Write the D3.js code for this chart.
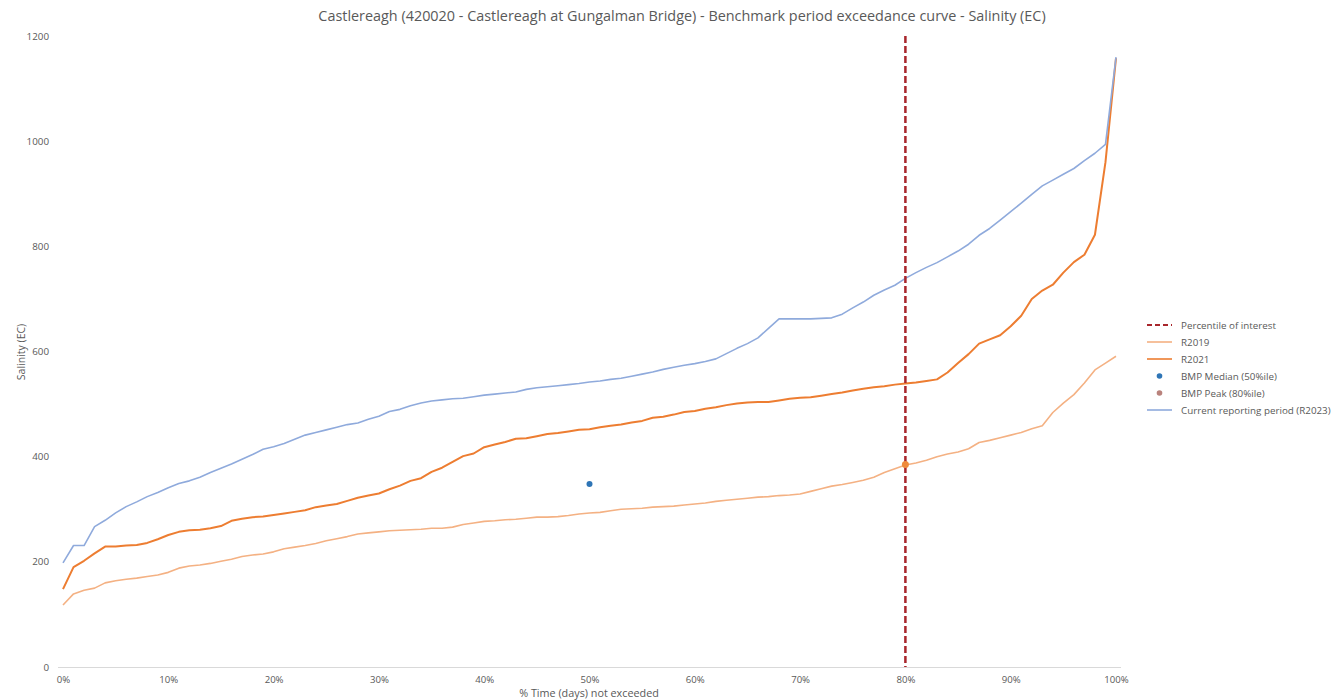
<!DOCTYPE html>
<html>
<head>
<meta charset="utf-8">
<script src="https://cdn.jsdelivr.net/npm/d3@7"></script>
<style>
  html, body { margin: 0; padding: 0; background: #ffffff; }
  svg { display: block; font-family: "Open Sans", Lato, sans-serif; }
</style>
</head>
<body>
<svg id="chart" width="1344" height="700"></svg>
<script>
// Exceedance percentiles (0% .. 100% in 1% steps)
const percentiles = d3.range(0, 101);

// Salinity (EC) by percentile for each period
const r2019 = [
  118, 139, 146, 150, 160, 164, 167, 169, 172, 175,
  180, 188, 192, 194, 197, 201, 205, 210, 213, 215,
  219, 225, 228, 231, 235, 240, 244, 248, 253, 255,
  257, 259, 260, 261, 262, 264, 264, 266, 271, 274,
  277, 278, 280, 281, 283, 285, 285, 286, 288, 291,
  293, 294, 297, 300, 301, 302, 304, 305, 306, 308,
  310, 312, 315, 317, 319, 321, 323, 324, 326, 327,
  329, 334, 339, 344, 347, 351, 355, 361, 370, 377,
  384, 388, 393, 400, 405, 409, 415, 427, 431, 436,
  441, 446, 453, 459, 484, 502, 518, 540, 565, 578,
  591
];
const r2021 = [
  148, 190, 202, 216, 229, 229, 231, 232, 236, 243,
  251, 257, 260, 261, 264, 268, 278, 282, 285, 286,
  289, 292, 295, 298, 304, 307, 310, 316, 322, 326,
  330, 338, 345, 354, 359, 371, 379, 390, 401, 406,
  418, 423, 428, 434, 435, 439, 443, 445, 448, 451,
  452, 456, 459, 461, 465, 468, 474, 476, 480, 485,
  487, 491, 494, 498, 501, 503, 504, 504, 507, 510,
  512, 513, 516, 519, 522, 526, 529, 532, 534, 537,
  539, 541, 544, 547, 560, 578, 595, 615, 623, 631,
  648, 668, 700, 716, 727, 750, 770, 784, 822, 960,
  1158
];
const r2023 = [
  198, 231, 231, 267, 279, 293, 305, 314, 324, 332,
  341, 349, 354, 361, 370, 378, 386, 395, 404, 414,
  419, 425, 433, 441, 446, 451, 456, 461, 464, 471,
  477, 486, 490, 497, 502, 506, 508, 510, 511, 514,
  517, 519, 521, 523, 528, 531, 533, 535, 537, 539,
  542, 544, 547, 549, 553, 557, 561, 566, 570, 574,
  577, 581, 586, 596, 606, 615, 626, 644, 662, 662,
  662, 662, 663, 664, 671, 683, 694, 707, 717, 726,
  739, 750, 760, 769, 780, 791, 804, 821, 834, 850,
  866, 882, 899, 915, 926, 937, 948, 963, 977, 994,
  1160
];

// Benchmark markers and percentile of interest
const bmpMedian = { pct: 50, value: 348 };
const bmpPeak = { pct: 80, value: 385 };
const percentileOfInterest = 80;

const yTicks = [0, 200, 400, 600, 800, 1000, 1200];
const xTicks = [0, 10, 20, 30, 40, 50, 60, 70, 80, 90, 100];

const titleText = "Castlereagh (420020 - Castlereagh at Gungalman Bridge) - Benchmark period exceedance curve - Salinity (EC)";
const xTitle = "% Time (days) not exceeded";
const yTitle = "Salinity (EC)";
const legendItems = [
  { label: "Percentile of interest", kind: "dash", color: "#a8262c" },
  { label: "R2019", kind: "line", color: "#f4b183" },
  { label: "R2021", kind: "line", color: "#ed7d31" },
  { label: "BMP Median (50%ile)", kind: "dot", color: "#2e75b6" },
  { label: "BMP Peak (80%ile)", kind: "dot", color: "#b9827c" },
  { label: "Current reporting period (R2023)", kind: "line", color: "#8faadc" }
];

const svg = d3.select("#chart");
const textColor = "#595959";

const x = d3.scaleLinear().domain([0, 100]).range([63, 1116]);
const y = d3.scaleLinear().domain([0, 1200]).range([667, 36]);

// Title
svg.append("text")
  .attr("x", 682).attr("y", 21)
  .attr("text-anchor", "middle")
  .attr("font-size", 14.4)
  .attr("fill", textColor)
  .text(titleText);

// Y axis (labels only)
const yAxis = d3.axisLeft(y).tickValues(yTicks).tickSize(0).tickPadding(0).tickFormat(d3.format("d"));
const gy = svg.append("g").attr("transform", "translate(49,0)").call(yAxis);
gy.select(".domain").remove();
gy.selectAll("text").attr("fill", textColor).attr("font-size", 9.8).attr("font-family", "'Open Sans', sans-serif");

// X axis with light baseline
const xAxis = d3.axisBottom(x).tickValues(xTicks).tickSize(0).tickPadding(9)
  .tickFormat(d => d + "%");
const gx = svg.append("g").attr("transform", "translate(0,667)").call(xAxis);
gx.select(".domain").attr("stroke", "#d9d9d9").attr("d", "M58,0.5H1121");
gx.selectAll("text").attr("fill", textColor).attr("font-size", 9.6).attr("font-family", "'Open Sans', sans-serif");

// Axis titles
svg.append("text")
  .attr("x", 589).attr("y", 697)
  .attr("text-anchor", "middle")
  .attr("font-size", 10.8)
  .attr("fill", textColor)
  .text(xTitle);
svg.append("text")
  .attr("transform", "translate(25,352) rotate(-90)")
  .attr("text-anchor", "middle")
  .attr("font-size", 10.5)
  .attr("fill", textColor)
  .text(yTitle);

// Exceedance curves
const line = d3.line().x((d, i) => x(percentiles[i])).y(d => y(d));
const series = [
  { data: r2019, color: "#f4b183", width: 1.6 },
  { data: r2021, color: "#ed7d31", width: 2 },
  { data: r2023, color: "#8faadc", width: 1.6 }
];
svg.append("g").selectAll("path").data(series).join("path")
  .attr("d", d => line(d.data))
  .attr("fill", "none")
  .attr("stroke", d => d.color)
  .attr("stroke-width", d => d.width)
  .attr("stroke-linejoin", "round");

// Percentile of interest
svg.append("line")
  .attr("x1", x(percentileOfInterest)).attr("x2", x(percentileOfInterest))
  .attr("y1", y(1200)).attr("y2", y(0))
  .attr("stroke", "#a8262c")
  .attr("stroke-width", 2.5)
  .attr("stroke-dasharray", "7,3");

// Benchmark markers
svg.append("circle")
  .attr("cx", x(bmpMedian.pct)).attr("cy", y(bmpMedian.value))
  .attr("r", 3).attr("fill", "#2e75b6");
svg.append("circle")
  .attr("cx", x(bmpPeak.pct)).attr("cy", y(bmpPeak.value))
  .attr("r", 3.5).attr("fill", "#ef8a3c");

// Legend
const lg = svg.append("g").attr("transform", "translate(1147,325)");
const rows = lg.selectAll("g").data(legendItems).join("g")
  .attr("transform", (d, i) => `translate(0,${i * 17})`);
rows.filter(d => d.kind !== "dot").append("line")
  .attr("x1", 0).attr("x2", 25).attr("y1", 0).attr("y2", 0)
  .attr("stroke", d => d.color)
  .attr("stroke-width", d => d.kind === "dash" ? 2.2 : 1.6)
  .attr("stroke-dasharray", d => d.kind === "dash" ? "5,3" : null);
rows.filter(d => d.kind === "dot").append("circle")
  .attr("cx", 12.5).attr("cy", 0).attr("r", 2.8)
  .attr("fill", d => d.color);
rows.append("text")
  .attr("x", 34).attr("y", 3.5)
  .attr("font-size", 9.8)
  .attr("fill", textColor)
  .text(d => d.label);
</script>
</body>
</html>
